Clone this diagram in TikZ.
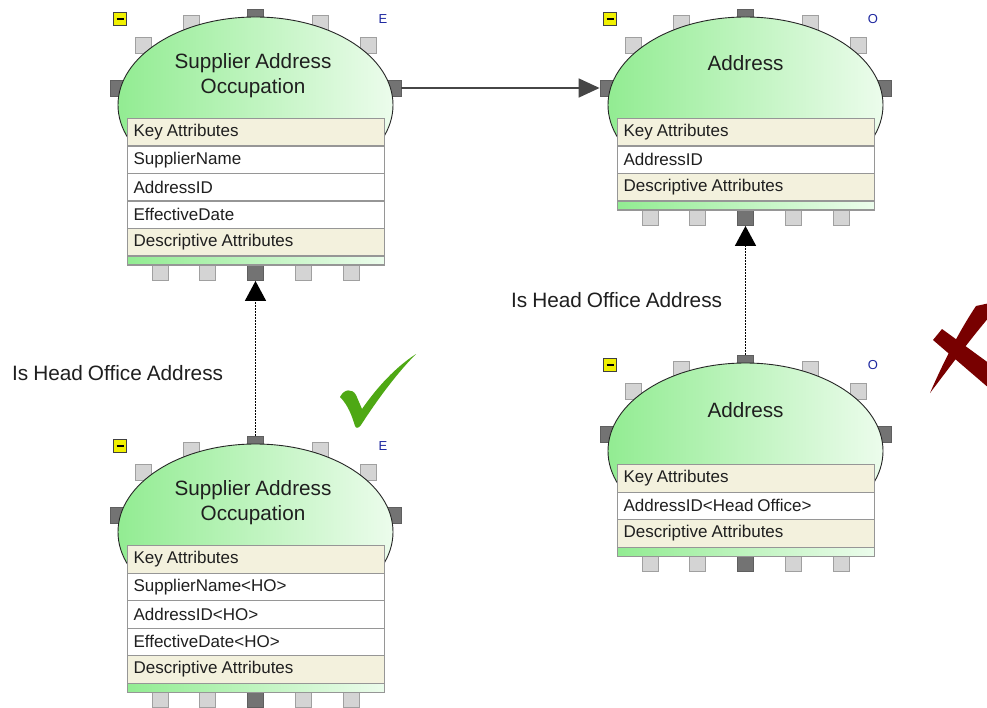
\documentclass[tikz,border=0pt]{standalone}
\usepackage{fontspec}
\setmainfont{Liberation Sans}[WordSpace=0.85]
\usetikzlibrary{arrows.meta}

\definecolor{domeL}{RGB}{146,236,146}
\definecolor{domeR}{RGB}{236,252,236}
\definecolor{keyfill}{RGB}{243,241,221}
\definecolor{rowedge}{RGB}{150,150,150}
\definecolor{lportfill}{RGB}{212,212,212}
\definecolor{lportedge}{RGB}{160,160,160}
\definecolor{dportfill}{RGB}{115,115,115}
\definecolor{dportedge}{RGB}{95,95,95}
\definecolor{tickgreen}{RGB}{78,168,20}
\definecolor{crossred}{RGB}{120,0,0}
\definecolor{kindblue}{RGB}{30,40,160}
\definecolor{iconyellow}{RGB}{240,240,0}
\definecolor{linkgray}{RGB}{70,70,70}

% Entity frame: connection ports, dome, collapse icon and kind letter.
% #1 name, #2/#3 top-left corner of the attribute table, #4 table height, #5 kind letter
\newcommand\entityframe[5]{%
  \begin{scope}[shift={(#2,#3)}]
    \node[lport] (#1-tl2) at (64,-95) {};
    \node[lport] (#1-tr2) at (193,-95) {};
    \node[lport] (#1-tl1) at (16,-73) {};
    \node[lport] (#1-tr1) at (241,-73) {};
    \node[dport] (#1-t) at (128.5,-101) {};
    \node[dport] (#1-l) at (-9,-30) {};
    \node[dport] (#1-r) at (266,-30) {};
    \node[lport] (#1-b1) at (33,{#4+8}) {};
    \node[lport] (#1-b2) at (80.5,{#4+8}) {};
    \node[dport] (#1-b) at (128.5,{#4+8}) {};
    \node[lport] (#1-b4) at (176.5,{#4+8}) {};
    \node[lport] (#1-b5) at (224,{#4+8}) {};
    \path[dome] (128.5,-13) ellipse [x radius=137.5, y radius=88];
    \node[icon] (#1-icon) at (-7,-99) {};
    \draw[line width=1.4pt] ([xshift=-3.5pt]#1-icon.center) -- ([xshift=3.5pt]#1-icon.center);
    \node[kindmark] (#1-kind) at (256,-99) {#5};
  \end{scope}}

% One attribute row: #1 name, #2/#3 top-left corner, #4 row style, #5 text
% (plain font word spaces instead of the ragged-right default)
\newcommand\attrrow[5]{\node[#4] (#1) at (#2,#3) {\spaceskip=0pt\xspaceskip=0pt\relax #5};}

\begin{document}
\begin{tikzpicture}[x=1pt,y=-1pt,
  lport/.style={rectangle, draw=lportedge, fill=lportfill, line width=0.9pt,
    minimum width=16pt, minimum height=16pt, inner sep=0pt},
  dport/.style={lport, draw=dportedge, fill=dportfill},
  dome/.style={draw=black!85, line width=0.9pt, left color=domeL, right color=domeR},
  tblrow/.style={rectangle, draw=rowedge, line width=1.1pt, minimum width=257pt,
    minimum height=27.5pt, text width=245pt, inner xsep=6pt, inner ysep=0pt,
    align=left, anchor=north west, font=\fontsize{17}{18}\selectfont, text=black!88},
  keyrow/.style={tblrow, fill=keyfill},
  datarow/.style={tblrow, fill=white},
  greenbar/.style={rectangle, draw=rowedge, line width=1.1pt, minimum width=257pt,
    minimum height=9pt, inner sep=0pt, anchor=north west, left color=domeL, right color=domeR},
  icon/.style={rectangle, draw=black!75, fill=iconyellow, line width=0.9pt,
    minimum size=13pt, inner sep=0pt},
  kindmark/.style={inner sep=0pt, text=kindblue, font=\fontsize{13}{13}\selectfont},
  entitytitle/.style={inner sep=0pt, align=center, text=black!88,
    font=\fontsize{20.7}{25}\selectfont},
  linklabel/.style={inner sep=0pt, anchor=west, text=black!88,
    font=\fontsize{20.8}{24}\selectfont},
  solidlink/.style={draw=linkgray, line width=1.8pt, -{Triangle[length=21pt,width=19pt]}},
  dotlink/.style={draw=black, line width=1.6pt, dash pattern=on 1.5pt off 1.5pt,
    -{Triangle[length=20pt,width=21pt]}}
]
\fill[white] (0,0) rectangle (987,708);
\useasboundingbox (0,0) rectangle (987,708);

% ---- Supplier Address Occupation (top) ----
\entityframe{A}{127}{118}{146.5}{E}
\node[entitytitle] (A-title) at (253,75.5) {Supplier Address\\Occupation};
\attrrow{A-k}{127}{118}{keyrow}{Key Attributes}
\attrrow{A-1}{127}{145.5}{datarow}{SupplierName}
\attrrow{A-2}{127}{173}{datarow}{AddressID}
\attrrow{A-3}{127}{200.5}{datarow}{EffectiveDate}
\attrrow{A-d}{127}{228}{keyrow}{Descriptive Attributes}
\node[greenbar] (A-bar) at (127,255.5) {};

% ---- Address (top) ----
\entityframe{B}{617}{118}{91.5}{O}
\node[entitytitle] (B-title) at (745.5,63) {Address};
\attrrow{B-k}{617}{118}{keyrow}{Key Attributes}
\attrrow{B-1}{617}{145.5}{datarow}{AddressID}
\attrrow{B-d}{617}{173}{keyrow}{Descriptive Attributes}
\node[greenbar] (B-bar) at (617,200.5) {};

% ---- Address (head office) ----
\entityframe{C}{617}{464}{91.5}{O}
\node[entitytitle] (C-title) at (745.5,410) {Address};
\attrrow{C-k}{617}{464}{keyrow}{Key Attributes}
\attrrow{C-1}{617}{491.5}{datarow}{AddressID<Head Office>}
\attrrow{C-d}{617}{519}{keyrow}{Descriptive Attributes}
\node[greenbar] (C-bar) at (617,546.5) {};

% ---- Supplier Address Occupation (head office) ----
\entityframe{D}{127}{545}{146.5}{E}
\node[entitytitle] (D-title) at (253,502.5) {Supplier Address\\Occupation};
\attrrow{D-k}{127}{545}{keyrow}{Key Attributes}
\attrrow{D-1}{127}{572.5}{datarow}{SupplierName<HO>}
\attrrow{D-2}{127}{600}{datarow}{AddressID<HO>}
\attrrow{D-3}{127}{627.5}{datarow}{EffectiveDate<HO>}
\attrrow{D-d}{127}{655}{keyrow}{Descriptive Attributes}
\node[greenbar] (D-bar) at (127,682.5) {};

% ---- relationships ----
\draw[solidlink] (A-r.east) -- (B-l.west);
\draw[dotlink] (D-t.north) -- (A-b.south);
\draw[dotlink] (C-t.north) -- (B-b.south);
\node[linklabel] (lblA) at (12,373) {Is Head Office Address};
\node[linklabel] (lblB) at (511,300) {Is Head Office Address};

% ---- tick mark ----
\fill[tickgreen] (340,397) .. controls (344,389) and (352,388) .. (356,395)
  -- (362,409) .. controls (378,386) and (396,367) .. (416,354)
  .. controls (399,371) and (379,397) .. (361,425)
  .. controls (359,428) and (356,429) .. (355,426)
  .. controls (352,416) and (348,405) .. (340,397) -- cycle;

% ---- cross mark ----
\fill[crossred] (933,340) -- (942,329) -- (990,364) -- (990,389) -- cycle;
\fill[crossred] (976,306) -- (990,303) -- (990,316)
  .. controls (968,342) and (946,372) .. (930,393)
  .. controls (940,370) and (956,336) .. (976,306) -- cycle;
\end{tikzpicture}
\end{document}
